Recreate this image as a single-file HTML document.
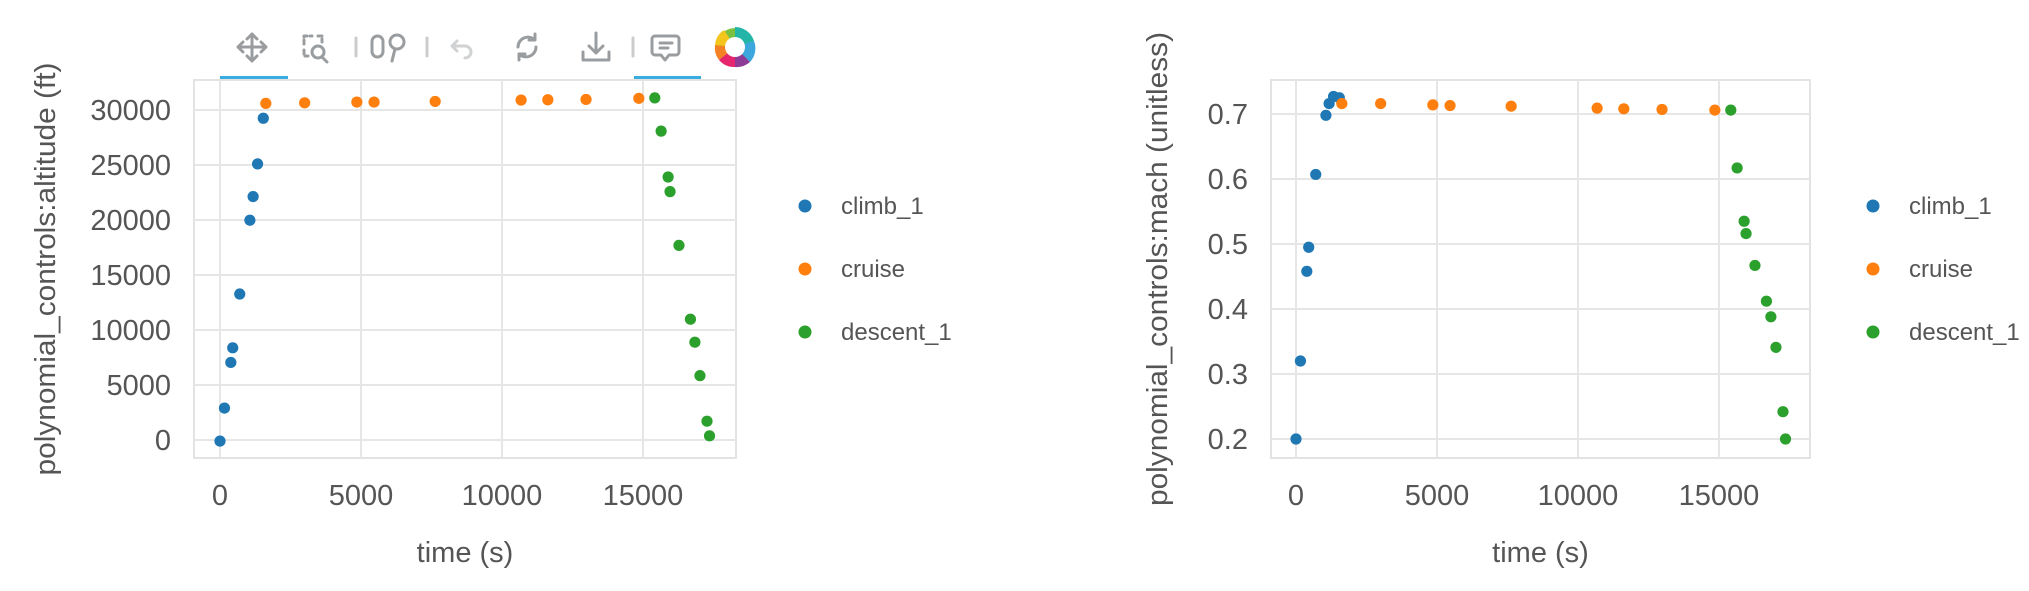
<!DOCTYPE html>
<html><head><meta charset="utf-8"><style>
html,body{margin:0;padding:0;background:#fff;}
svg{display:block;font-family:"Liberation Sans",Arial,sans-serif;}
</style></head><body>
<svg id="root" width="2029" height="591" viewBox="0 0 2029 591">
<g id="toolbar" stroke="#9a9d9f" stroke-width="3" fill="none" stroke-linecap="round" stroke-linejoin="round">
  <g>
    <path d="M252 34v27M238 47h28M247 39l5-5 5 5M247 56l5 5 5-5M243 42l-5 5 5 5M261 42l5 5-5 5"/>
  </g>
  <g>
    <path d="M304 44v-8h8M318 36h4v6M304 50v6h4" stroke-dasharray="4 3"/>
    <circle cx="318" cy="52" r="6"/><path d="M322 57l5 5"/>
  </g>
  <path d="M356 38v18" stroke="#ccc"/>
  <g>
    <rect x="372" y="36" width="11" height="21" rx="5.5"/><circle cx="397" cy="42" r="7"/><path d="M395 49l-3 12"/>
  </g>
  <path d="M427 38v18" stroke="#ccc"/>
  <g stroke="#d0d2d3">
    <path d="M452 46h13a6 6 0 0 1 0 12M452 46l5-5M452 46l5 5"/>
  </g>
  <g>
    <path d="M518 47a10 10 0 0 1 17-7M536 47a10 10 0 0 1-17 7M535 34v6h-6M519 60v-6h6"/>
  </g>
  <g>
    <path d="M596 33v20M589 46l7 7 7-7M583 52v8h26v-8"/>
  </g>
  <path d="M633 38v18" stroke="#ccc"/>
  <g>
    <path d="M655 36h21a3 3 0 0 1 3 3v13a3 3 0 0 1-3 3h-7l-4 5-4-5h-6a3 3 0 0 1-3-3v-13a3 3 0 0 1 3-3zM660 43h12M660 48h8"/>
  </g>
  <g stroke="none">
    <circle cx="735" cy="47" r="19" fill="#7cc242"/>
    <path d="M735 47L735 27A20 20 0 0 1 754 41Z" fill="#22b5a8"/>
    <path d="M735 47L754 41A20 20 0 0 1 750 62Z" fill="#3ba7dc"/>
    <path d="M735 47L750 62A20 20 0 0 1 735 67Z" fill="#8e3b97"/>
    <path d="M735 47L735 67A20 20 0 0 1 719 60Z" fill="#e6256e"/>
    <path d="M735 47L719 60A20 20 0 0 1 715 45Z" fill="#f48124"/>
    <path d="M735 47L715 45A20 20 0 0 1 724 30Z" fill="#f4c51c"/>
    <circle cx="735" cy="47" r="10" fill="#fff"/>
  </g>
  <rect x="220" y="76" width="68" height="4" fill="#3aade0" stroke="none"/>
  <rect x="634" y="76" width="67" height="4" fill="#3aade0" stroke="none"/>
</g>
<g id="p1"></g>
<g id="p2"></g>
</svg>
<script>
const climbTime = [0,158,384,451,700,1061,1174,1332,1535];
const cruiseTime = [1625,3002,4853,5463,7630,10678,11625,12980,14853];
const descentTime = [15418,15643,15891,15959,16275,16682,16840,17020,17269,17359];
const climbAlt = [-100,2900,7050,8380,13270,19980,22130,25100,29250];
const cruiseAlt = [30600,30650,30720,30720,30780,30900,30930,30960,31060];
const descentAlt = [31100,28080,23910,22580,17690,10980,8890,5850,1710,380];
const climbMach = [0.2,0.32,0.458,0.495,0.607,0.698,0.716,0.727,0.725];
const cruiseMach = [0.716,0.716,0.714,0.713,0.712,0.709,0.708,0.707,0.706];
const descentMach = [0.706,0.617,0.535,0.516,0.467,0.412,0.388,0.341,0.242,0.2];
const xTicks = [0,5000,10000,15000];
const altTicks = [0,5000,10000,15000,20000,25000,30000];
const machTicks = [0.2,0.3,0.4,0.5,0.6,0.7];
const seriesNames = ['climb_1','cruise','descent_1'];
const colors = ['#1f77b4','#ff7f0e','#2ca02c'];
const NS='http://www.w3.org/2000/svg';
function mk(parent, tag, attrs){const e=document.createElementNS(NS,tag);for(const k in attrs)e.setAttribute(k,attrs[k]);parent.appendChild(e);return e;}
function chart(g, cfg){
  const sx=t=>cfg.x0+(t-0)*(141/5000);
  const sy=v=>cfg.yBase-(v-cfg.vBase)*cfg.ppu;
  const box=mk(g,'rect',{x:cfg.L,y:80,width:cfg.R-cfg.L,height:378,fill:'none',stroke:'#e3e3e3','stroke-width':2});
  
  
  xTicks.forEach(t=>{
    const l=mk(g,'line',{x1:sx(t),x2:sx(t),y1:80,y2:458,stroke:'#e6e6e6','stroke-width':2});
    
    
    const tx=mk(g,'text',{x:sx(t),y:505,'text-anchor':'middle','font-size':29,fill:'#555'});
    tx.textContent=t;
    
    
  });
  cfg.ticks.forEach(v=>{
    const l=mk(g,'line',{x1:cfg.L,x2:cfg.R,y1:sy(v),y2:sy(v),stroke:'#e6e6e6','stroke-width':2});
    
    
    const tx=mk(g,'text',{x:cfg.L-23,y:sy(v)+10,'text-anchor':'end','font-size':29,fill:'#555'});
    tx.textContent=cfg.fmt(v);
    
    
  });
  const xt=mk(g,'text',{x:(cfg.L+cfg.R)/2,y:562,'text-anchor':'middle','font-size':29,fill:'#555'});
  xt.textContent='time (s)';
  
  
  const yt=mk(g,'text',{x:0,y:0,'text-anchor':'middle','font-size':29,fill:'#555',textLength:cfg.tl,lengthAdjust:'spacingAndGlyphs',transform:`translate(${cfg.tx},269) rotate(-90)`});
  yt.textContent=cfg.title;
  
  
  const sets=[[climbTime,cfg.vals[0]],[cruiseTime,cfg.vals[1]],[descentTime,cfg.vals[2]]];
  sets.forEach((s,i)=>{
    s[0].forEach((t,j)=>{
      const c=mk(g,'circle',{cx:sx(t),cy:sy(s[1][j]),r:5.6,fill:colors[i]});
      
      
    });
    const lc=mk(g,'circle',{cx:cfg.legX,cy:206+i*63,r:6.5,fill:colors[i]});
    
    
    const lt=mk(g,'text',{x:cfg.legX+36,y:214+i*63,'font-size':24,fill:'#555'});
    lt.textContent=seriesNames[i];
    
    
  });
}
chart(document.getElementById('p1'),{L:194,R:736,x0:220,yBase:440,vBase:0,ppu:55/5000,ticks:altTicks,fmt:v=>String(v),vals:[climbAlt,cruiseAlt,descentAlt],title:'polynomial_controls:altitude (ft)',tl:413,tx:55,legX:805});
chart(document.getElementById('p2'),{L:1271,R:1810,x0:1296,yBase:439,vBase:0.2,ppu:650,ticks:machTicks,fmt:v=>v.toFixed(1),vals:[climbMach,cruiseMach,descentMach],title:'polynomial_controls:mach (unitless)',tl:474,tx:1167,legX:1873});
</script>
</body></html>
